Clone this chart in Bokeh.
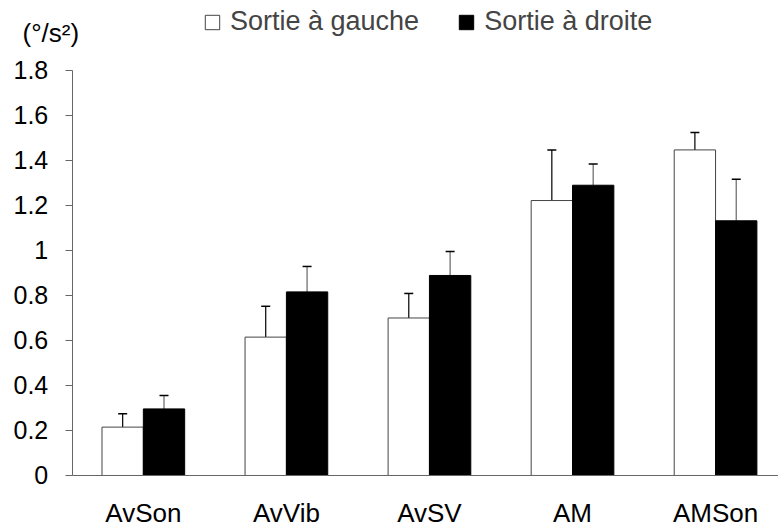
import numpy as np
from bokeh.plotting import figure
from bokeh.models import (Range1d, FixedTicker, ColumnDataSource, Whisker, TeeHead,
                          Legend, LegendItem, Label)
from bokeh.embed import file_html
from bokeh.resources import INLINE

categories = ["AvSon", "AvVib", "AvSV", "AM", "AMSon"]
gauche = [0.215, 0.615, 0.70, 1.222, 1.447]
droite = [0.296, 0.816, 0.889, 1.290, 1.132]
err_gauche = [0.059, 0.137, 0.109, 0.225, 0.077]
err_droite = [0.060, 0.113, 0.107, 0.094, 0.185]
y_ticks = [0, 0.2, 0.4, 0.6, 0.8, 1, 1.2, 1.4, 1.6, 1.8]
y_tick_labels = ["0", "0.2", "0.4", "0.6", "0.8", "1", "1.2", "1.4", "1.6", "1.8"]
series_names = ["Sortie à gauche", "Sortie à droite"]
unit_label = "(°/s²)"

FONT = "Liberation Sans"
bar_w = 0.289
axis_x = -0.497          # where the value axis sits (data units)
x = np.arange(len(categories))

p = figure(width=778, height=531, output_backend="svg", toolbar_location=None,
           x_range=Range1d(-0.9985, 4.44), y_range=Range1d(-0.2489, 2.111),
           min_border_left=0, min_border_right=0, min_border_top=0, min_border_bottom=0)
p.outline_line_color = None
p.grid.visible = False
p.background_fill_color = "white"

src_g = ColumnDataSource(dict(x=x - bar_w / 2, top=gauche,
                              upper=np.array(gauche) + np.array(err_gauche)))
src_d = ColumnDataSource(dict(x=x + bar_w / 2, top=droite,
                              upper=np.array(droite) + np.array(err_droite)))

rg = p.vbar(x="x", top="top", width=bar_w, source=src_g, fill_color="white",
            line_color="#444444", line_width=1)
rd = p.vbar(x="x", top="top", width=bar_w, source=src_d, fill_color="black",
            line_color="black", line_width=1)

for src, stem in ((src_g, "black"), (src_d, "#666666")):
    w = Whisker(source=src, base="x", lower="top", upper="upper", dimension="height",
                line_color=stem, line_width=1.2,
                upper_head=TeeHead(size=9, line_color="black", line_width=1.5),
                lower_head=None)
    p.add_layout(w)

# x axis
xa = p.xaxis[0]
xa.fixed_location = 0
xa.ticker = FixedTicker(ticks=list(x))
xa.major_label_overrides = {int(i): c for i, c in enumerate(categories)}
xa.bounds = (axis_x, 4.44)
xa.major_tick_out = 0
xa.major_tick_in = 0
xa.minor_tick_out = 0
xa.minor_tick_in = 0
xa.axis_line_color = "#666666"
xa.major_label_text_font = FONT
xa.major_label_text_font_size = "26px"
xa.major_label_text_color = "black"
xa.major_label_standoff = 23

ya = p.yaxis[0]
ya.fixed_location = axis_x
ya.ticker = FixedTicker(ticks=y_ticks)
ya.major_label_overrides = {t: l for t, l in zip(y_ticks, y_tick_labels)}
ya.bounds = (0, 1.8)
ya.major_tick_out = 7
ya.major_tick_in = 0
ya.minor_tick_out = 0
ya.minor_tick_in = 0
ya.axis_line_color = "#666666"
ya.major_tick_line_color = "#666666"
ya.major_label_text_font = FONT
ya.major_label_text_font_size = "25px"
ya.major_label_text_color = "black"
ya.major_label_standoff = 17

legend = Legend(items=[LegendItem(label=series_names[0], renderers=[rg]),
                       LegendItem(label=series_names[1], renderers=[rd])],
                orientation="horizontal", location=(203, 494),
                label_text_font=FONT, label_text_font_size="27px",
                glyph_width=18, glyph_height=18, spacing=38, label_standoff=9,
                padding=0, margin=0, border_line_color=None,
                background_fill_alpha=0)
p.add_layout(legend)

p.add_layout(Label(x=22, y=499, x_units="screen", y_units="screen", text=unit_label,
                   text_font=FONT, text_font_size="26px", text_baseline="middle",
                   text_color="black"))

open("out.html", "w").write(file_html(p, INLINE))
